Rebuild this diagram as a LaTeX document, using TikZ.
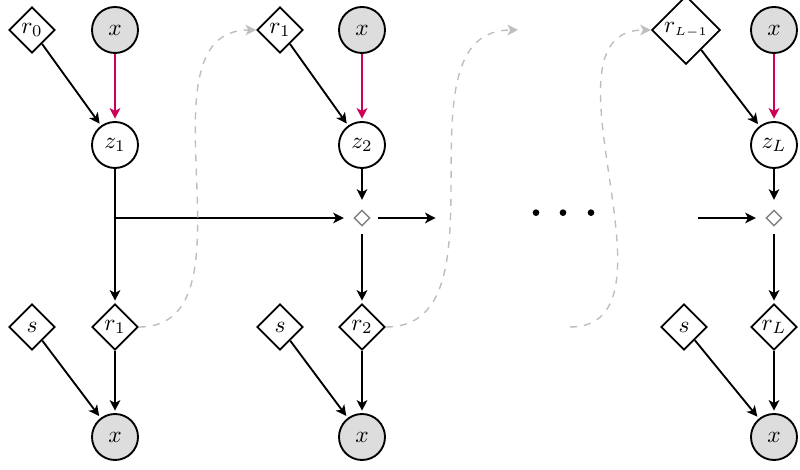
\documentclass[tikz,border=0pt]{standalone}
\usepackage{amsmath,amssymb}
\usepackage{tikz}
\usetikzlibrary{arrows.meta,shapes,positioning,calc}
\definecolor{crimson}{RGB}{204,0,85}
\definecolor{lightgray}{RGB}{221,221,221}
\definecolor{dashgray}{RGB}{190,190,190}

\begin{document}
\begin{tikzpicture}[
  >={Stealth[length=4.5pt,width=4.5pt,inset=1.2pt]},
  obs/.style={circle, draw, thick, fill=lightgray, minimum size=0.69cm, inner sep=0pt},
  lat/.style={circle, draw, thick, minimum size=0.69cm, inner sep=0pt},
  det/.style={diamond, draw, thick, minimum size=0.69cm, inner sep=0.5pt},
  merge/.style={diamond, draw=gray, semithick, minimum size=0.3cm, inner sep=0pt, outer sep=2.5pt},
  link/.style={->, thick, shorten >=1pt},
  obslink/.style={->, thick, crimson, shorten >=1pt},
  carry/.style={->, semithick, dashed, dashgray}
]
\useasboundingbox (0,0) rectangle (12,7.05);

% Column 1
\node[det] (rin1) at (0.48,6.6) {$r_0$};
\node[obs] (xin1) at (1.725,6.6) {$x$};
\node[lat] (z1) at (1.725,4.875) {$z_1$};
\node[det] (rout1) at (1.725,2.145) {$r_1$};
\node[det] (s1) at (0.48,2.145) {$s$};
\node[obs] (xout1) at (1.725,0.495) {$x$};

% Column 2
\node[det] (rin2) at (4.2,6.6) {$r_1$};
\node[obs] (xin2) at (5.43,6.6) {$x$};
\node[lat] (z2) at (5.43,4.875) {$z_2$};
\node[merge] (d2) at (5.43,3.78) {};
\node[det] (rout2) at (5.43,2.145) {$r_2$};
\node[det] (s2) at (4.2,2.145) {$s$};
\node[obs] (xout2) at (5.43,0.495) {$x$};
\coordinate (out2) at (6.57,3.78);
\coordinate (up2) at (7.77,6.6);

% Dots
\foreach \d in {8.04,8.445,8.865}
  \fill (\d,3.86) circle (0.05);

% Column 3
\node[det, inner sep=1pt] (rin3) at (10.29,6.6) {$r_{\scriptscriptstyle L-1}$};
\node[obs] (xin3) at (11.61,6.6) {$x$};
\node[lat] (z3) at (11.61,4.875) {$z_L$};
\node[merge] (d3) at (11.61,3.78) {};
\node[det] (rout3) at (11.61,2.145) {$r_L$};
\node[det] (s3) at (10.26,2.145) {$s$};
\node[obs] (xout3) at (11.61,0.495) {$x$};
\coordinate (in3) at (10.47,3.78);
\coordinate (low3) at (8.55,2.145);

% Edges, column 1
\draw[link] (rin1) -- (z1);
\draw[obslink] (xin1) -- (z1);
\draw[link] (z1) -- (rout1);
\draw[link] (z1 |- d2) -- (d2);
\draw[link] (s1) -- (xout1);
\draw[link] (rout1) -- (xout1);

% Edges, column 2
\draw[link] (rin2) -- (z2);
\draw[obslink] (xin2) -- (z2);
\draw[link] (z2) -- (d2);
\draw[link] (d2) -- (out2);
\draw[link] (d2) -- (rout2);
\draw[link] (s2) -- (xout2);
\draw[link] (rout2) -- (xout2);

% Edges, column 3
\draw[link] (rin3) -- (z3);
\draw[obslink] (xin3) -- (z3);
\draw[link] (z3) -- (d3);
\draw[link] (in3) -- (d3);
\draw[link] (d3) -- (rout3);
\draw[link] (s3) -- (xout3);
\draw[link] (rout3) -- (xout3);

% Recurrent connections
\draw[carry] (rout1.east) to[out=0,in=180] (rin2.west);
\draw[carry] (rout2.east) to[out=0,in=180] (up2);
\draw[carry] (low3) to[out=0,in=180] (rin3.west);
\end{tikzpicture}
\end{document}
